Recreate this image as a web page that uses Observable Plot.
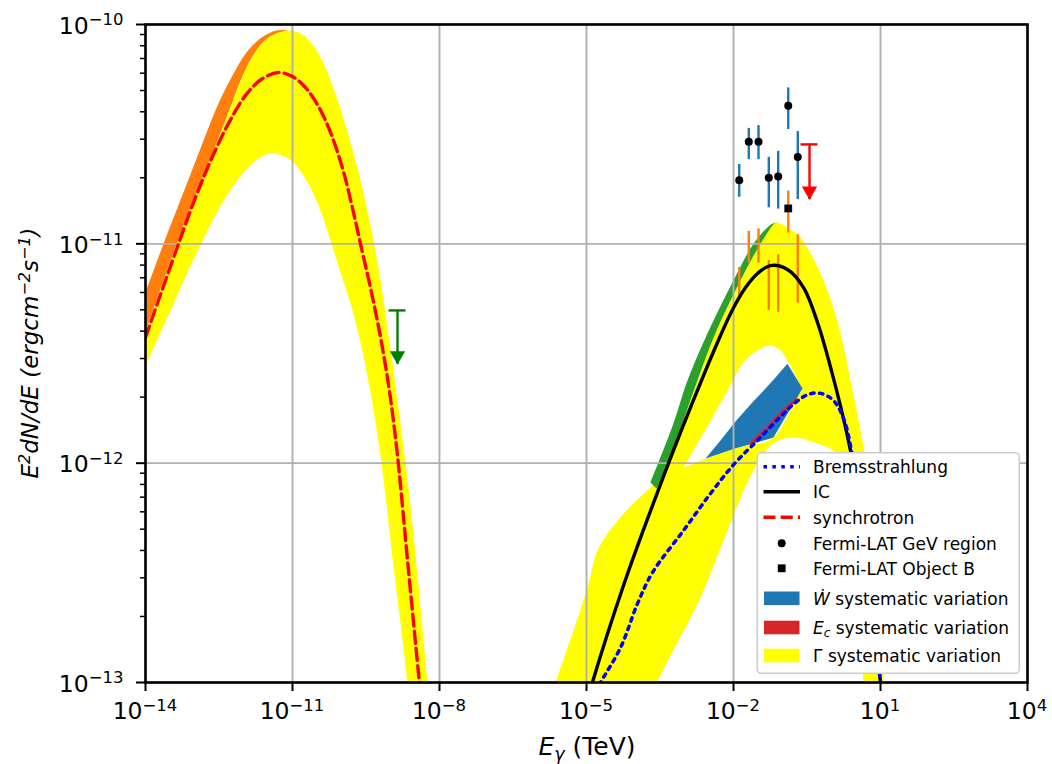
<!DOCTYPE html>
<html><head><meta charset="utf-8">
<script src="https://cdn.jsdelivr.net/npm/d3@7"></script>
<script src="https://cdn.jsdelivr.net/npm/@observablehq/plot@0.6"></script>
<style>
html,body{margin:0;padding:0;background:#fff;}
#chart{width:1052px;height:764px;}
</style></head><body><div id="chart"></div>
<script>
// ---------- ticks ----------
const xTicks = [1e-14, 1e-11, 1e-8, 1e-5, 1e-2, 1e1, 1e4];
const xTickExp = ["\u221214", "\u221211", "\u22128", "\u22125", "\u22122", "1", "4"];
const yTicks = [1e-13, 1e-12, 1e-11, 1e-10];
const yTickExp = ["\u221213", "\u221212", "\u221211", "\u221210"];
const yMinorTicks = [2e-13, 3e-13, 4e-13, 5e-13, 6e-13, 7e-13, 8e-13, 9e-13,
  2e-12, 3e-12, 4e-12, 5e-12, 6e-12, 7e-12, 8e-12, 9e-12,
  2e-11, 3e-11, 4e-11, 5e-11, 6e-11, 7e-11, 8e-11, 9e-11];

// ---------- synchrotron ----------
const synchE = [1e-14, 2.02e-14, 4.71e-14, 1.05e-13, 2.33e-13, 4.94e-13, 1.10e-12, 2.44e-12, 5.18e-12, 1.0e-11, 1.84e-11, 3.40e-11, 5.97e-11, 1.05e-10, 1.67e-10, 2.44e-10, 4.09e-10, 6.55e-10, 1.0e-9, 1.39e-9, 2.33e-9, 3.91e-9, 4.50e-9];
const synchF = [3.74e-12, 5.87e-12, 1.0e-11, 1.63e-11, 2.50e-11, 3.54e-11, 4.75e-11, 5.67e-11, 6.04e-11, 5.79e-11, 5.16e-11, 4.23e-11, 3.22e-11, 2.21e-11, 1.46e-11, 1.0e-11, 6.0e-12, 3.55e-12, 1.97e-12, 1.08e-12, 3.24e-13, 9.9e-14, 7.4e-14];
// Gamma band of synchrotron: outer (upper) edge and inner (lower) edge
const synchUpperE = [1e-14, 2.33e-14, 5.18e-14, 1.15e-13, 2.44e-13, 4.94e-13, 9.10e-13, 1.67e-12, 3.24e-12, 7.91e-12, 1.46e-11, 2.56e-11, 4.30e-11, 6.87e-11, 1.10e-10, 1.76e-10, 2.81e-10, 4.30e-10, 6.25e-10, 9.10e-10, 1.32e-9, 1.84e-9, 2.56e-9, 3.56e-9, 5.69e-9, 6.55e-9];
const synchUpperF = [3.94e-12, 6.81e-12, 1.11e-11, 1.75e-11, 2.66e-11, 3.97e-11, 5.67e-11, 7.38e-11, 8.72e-11, 9.39e-11, 9.10e-11, 8.11e-11, 6.64e-11, 5.11e-11, 3.73e-11, 2.58e-11, 1.71e-11, 1.09e-11, 6.81e-12, 3.82e-12, 2.10e-12, 1.18e-12, 6.34e-13, 3.07e-13, 9.9e-14, 6.7e-14];
const synchLowerE = [1e-14, 3.24e-14, 8.28e-14, 1.84e-13, 3.72e-13, 7.55e-13, 1.60e-12, 3.56e-12, 8.28e-12, 1.67e-11, 3.09e-11, 5.43e-11, 9.55e-11, 1.53e-10, 2.44e-10, 3.91e-10, 6.25e-10, 1.15e-9, 2.22e-9, 2.56e-9];
const synchLowerF = [2.79e-12, 4.97e-12, 7.96e-12, 1.15e-11, 1.54e-11, 1.95e-11, 2.35e-11, 2.58e-11, 2.45e-11, 2.05e-11, 1.58e-11, 1.11e-11, 7.40e-12, 5.35e-12, 3.55e-12, 2.10e-12, 1.08e-12, 3.41e-13, 1e-13, 6.7e-14];
// Ec variation of synchrotron (outer edge of the orange strip)
const synchEcE = [1e-14, 2.33e-14, 6.55e-14, 1.53e-13, 3.09e-13, 5.97e-13, 1.15e-12, 2.33e-12, 4.71e-12];
const synchEcF = [6.0e-12, 1e-11, 1.81e-11, 2.96e-11, 4.36e-11, 5.85e-11, 7.45e-11, 8.72e-11, 9.39e-11];

// ---------- IC ----------
const icE = [1.05e-5, 1.32e-5, 5.69e-5, 2.56e-4, 1.32e-3, 5.43e-3, 9.55e-3, 1.76e-2, 3.09e-2, 5.69e-2, 0.126, 0.269, 0.518, 1.10, 2.44, 5.18, 10, 12.1];
const icF = [8.3e-14, 1e-13, 2.77e-13, 6.97e-13, 1.79e-12, 3.82e-12, 5.01e-12, 6.32e-12, 7.33e-12, 7.96e-12, 7.64e-12, 6.32e-12, 4.38e-12, 2.43e-12, 1.14e-12, 3.99e-13, 1e-13, 7.4e-14];
const icMaxE = [2.69e-4, 4.71e-4, 1.21e-3, 1.84e-3, 4.09e-3, 1.39e-2, 3.56e-2, 7.19e-2, 0.146, 0.233, 0.687, 1.53, 2.44, 3.91, 5.43, 7.55, 9.55, 11.5, 12.6];
const icMaxF = [7.66e-13, 9.95e-13, 1.83e-12, 2.38e-12, 3.82e-12, 6.81e-12, 1e-11, 1.25e-11, 1.16e-11, 1.07e-11, 6.81e-12, 3.90e-12, 2.38e-12, 1.41e-12, 9.25e-13, 3.99e-13, 1.91e-13, 1e-13, 7.4e-14];
const icMinE = [3.24e-4, 5.69e-4, 9.55e-4, 1.84e-3, 3.91e-3, 8.69e-3, 1.60e-2, 3.09e-2, 5.69e-2, 9.10e-2, 0.126, 0.184, 0.256, 0.471, 0.955, 1.93, 3.09, 4.30, 5.18, 5.69];
const icMinF = [6.08e-13, 7.66e-13, 9.55e-13, 1.23e-12, 1.65e-12, 2.28e-12, 2.88e-12, 3.26e-12, 3.44e-12, 3.26e-12, 2.94e-12, 2.51e-12, 2.14e-12, 1.87e-12, 1.56e-12, 1.24e-12, 9.25e-13, 3.60e-13, 1e-13, 8.26e-14];
const icEcE = [2.02e-4, 5.97e-4, 1.15e-3, 2.94e-3, 1e-2, 2.56e-2, 5.69e-2, 8.28e-2];
const icEcF = [8.17e-13, 1.52e-12, 2.38e-12, 3.90e-12, 6.81e-12, 1e-11, 1.22e-11, 1.26e-11];

// ---------- Bremsstrahlung ----------
const bremsE = [1.21e-5, 1.93e-5, 4.94e-5, 1.10e-4, 2.22e-4, 9.55e-4, 3.40e-3, 1.05e-2, 3.09e-2, 9.10e-2, 0.184, 0.340, 0.597, 1.10, 1.76, 2.44, 4.30, 6.87, 10, 11.5];
const bremsF = [8.3e-14, 1e-13, 1.44e-13, 2.29e-13, 3.17e-13, 4.93e-13, 7.27e-13, 9.95e-13, 1.27e-12, 1.63e-12, 1.89e-12, 2.06e-12, 2.08e-12, 1.93e-12, 1.60e-12, 1.20e-12, 4.93e-13, 2.24e-13, 1e-13, 7.85e-14];
const bremsMaxE = [1.67e-6, 2.33e-6, 1.05e-5, 1.67e-5, 4.30e-5, 2.02e-4, 4.71e-4, 9.55e-4, 2.69e-3, 1.10e-2, 6.55e-2, 0.256, 0.471, 0.955, 1.93, 3.09, 4.30, 5.18, 5.97];
const bremsMaxF = [8.26e-14, 1e-13, 2.71e-13, 3.99e-13, 5.47e-13, 7.74e-13, 9.06e-13, 9.55e-13, 1.05e-12, 1.17e-12, 1.31e-12, 2.14e-12, 2.10e-12, 1.83e-12, 1.48e-12, 1.08e-12, 5.47e-13, 2.36e-13, 8.26e-14];
const bremsMinE = [2.22e-4, 2.81e-4, 2.12e-3, 7.55e-3, 2.56e-2, 6.55e-2, 0.168, 0.471, 1.21, 2.44, 3.56, 4.50, 4.94];
const bremsMinF = [8.26e-14, 1e-13, 2.44e-13, 4.93e-13, 9.25e-13, 1.23e-12, 1.31e-12, 1.24e-12, 1.12e-12, 8.34e-13, 3.60e-13, 1e-13, 8.26e-14];
const bremsEcE = [2.22e-2, 4.50e-2, 9.10e-2, 0.202];
const bremsEcLowF = [1.19e-12, 1.38e-12, 1.63e-12, 1.91e-12];
const bremsEcHighF = [1.24e-12, 1.44e-12, 1.70e-12, 1.99e-12];

// ---------- W-dot variation ----------
const wdotUpperE = [2.69e-3, 5.43e-3, 1.10e-2, 2.22e-2, 4.09e-2, 7.19e-2, 0.126, 0.256];
const wdotUpperF = [1.05e-12, 1.27e-12, 1.55e-12, 1.85e-12, 2.14e-12, 2.46e-12, 2.84e-12, 2.19e-12];
const wdotLowerE = [2.69e-3, 1.10e-2, 2.56e-2, 6.55e-2, 0.256];
const wdotLowerF = [1.05e-12, 1.17e-12, 1.23e-12, 1.31e-12, 2.19e-12];

// ---------- Fermi-LAT data ----------
const gevE = [1.31e-2, 2.05e-2, 3.24e-2, 5.25e-2, 8.17e-2, 0.131, 0.205];
const gevF = [1.95e-11, 2.92e-11, 2.92e-11, 2.0e-11, 2.03e-11, 4.26e-11, 2.49e-11];
const gevLo = [1.63e-11, 2.42e-11, 2.42e-11, 1.46e-11, 1.44e-11, 3.32e-11, 1.59e-11];
const gevHi = [2.30e-11, 3.36e-11, 3.46e-11, 2.48e-11, 2.64e-11, 5.14e-11, 3.25e-11];
const objBErrLo = [5.69e-12, 8.16e-12, 8.16e-12, 4.97e-12, 4.88e-12, 1.12e-11, 5.36e-12];
const objBErrHi = [7.80e-12, 1.14e-11, 1.17e-11, 8.39e-12, 8.93e-12, 1.74e-11, 1.10e-11];
const objBE = [0.131];
const objBF = [1.45e-11];

// ---------- upper limits ----------
const ulE = [1.39e-9, 0.356];
const ulF = [4.97e-12, 2.84e-11];
const ulTip = [2.82e-12, 1.59e-11];

// ---------- legend labels ----------
const legendLabels = ["Bremsstrahlung", "IC", "synchrotron", "Fermi-LAT GeV region", "Fermi-LAT Object B"];

// ---------- build ----------
const pts = (E, F) => E.map((e, i) => ({x: e, y: F[i]}));
const poly = (upper, lower) => upper.concat(lower.slice().reverse());

const synchEcPoly = poly(pts(synchEcE, synchEcF), pts(synchUpperE.slice(0, 10), synchUpperF.slice(0, 10)));
const synchBand = poly(pts(synchUpperE, synchUpperF), pts(synchLowerE, synchLowerF));
const icBand = poly(pts(icMaxE, icMaxF), pts(icMinE, icMinF));
const bremsBand = poly(pts(bremsMaxE, bremsMaxF), pts(bremsMinE, bremsMinF));
const icEcBand = poly(pts(icEcE, icEcF), pts(icMaxE.slice(0, 8), icMaxF.slice(0, 8)));
const wdotBand = poly(pts(wdotUpperE, wdotUpperF), pts(wdotLowerE, wdotLowerF));
const bremsEc = bremsEcE.map((e, i) => ({x: e, lo: bremsEcLowF[i], hi: bremsEcHighF[i]}));
const gev = gevE.map((e, i) => ({x: e, y: gevF[i], lo: gevLo[i], hi: gevHi[i]}));
const objBars = gevE.map((e, i) => ({x: e, lo: objBErrLo[i], hi: objBErrHi[i]}));
const objB = pts(objBE, objBF);
const ul = ulE.map((e, i) => ({x: e, y: ulF[i], tip: ulTip[i]}));
const ulColors = ["green", "red"];

const W = 1052, H = 764, ML = 145, MR = 25, MT = 24, MB = 82;
const band = (data, fill, curve = "catmull-rom") =>
  Plot.line(data, {x: "x", y: "y", fill, stroke: "none", curve, clip: true});

const chart = Plot.plot({
  width: W, height: H,
  marginLeft: ML, marginRight: MR, marginTop: MT, marginBottom: MB,
  style: {fontFamily: "DejaVu Sans", background: "white", overflow: "visible"},
  x: {type: "log", domain: [1e-14, 1e4]},
  y: {type: "log", domain: [1e-13, 1e-10]},
  marks: [
    band(synchEcPoly, "#ff7f0e"),
    band(synchBand, "#ffff00"),
    band(icBand, "#ffff00"),
    band(bremsBand, "#ffff00"),
    band(icEcBand, "#2ca02c"),
    band(wdotBand, "#1f77b4", "linear"),
    Plot.areaY(bremsEc, {x: "x", y1: "lo", y2: "hi", fill: "#d62728", curve: "catmull-rom", clip: true}),
    Plot.ruleX(xTicks, {stroke: "#b0b0b0", strokeWidth: 1.9}),
    Plot.ruleY(yTicks, {stroke: "#b0b0b0", strokeWidth: 1.9}),
    Plot.ruleX(objBars, {x: "x", y1: "lo", y2: "hi", stroke: "#ff7f0e", strokeWidth: 2.4}),
    Plot.line(pts(synchE, synchF), {x: "x", y: "y", stroke: "red", strokeWidth: 3.4, strokeDasharray: "12,5.2", curve: "catmull-rom", clip: true}),
    Plot.line(pts(icE, icF), {x: "x", y: "y", stroke: "black", strokeWidth: 3.4, curve: "catmull-rom", clip: true}),
    Plot.line(pts(bremsE, bremsF), {x: "x", y: "y", stroke: "blue", strokeWidth: 3.5, strokeDasharray: "3.5,5.4", curve: "catmull-rom", clip: true}),
    Plot.ruleX(gev, {x: "x", y1: "lo", y2: "hi", stroke: "#1f77b4", strokeWidth: 2.4}),
    Plot.dot(gev, {x: "x", y: "y", r: 4, fill: "black"}),
    Plot.dot(objB, {x: "x", y: "y", symbol: "square", r: 4.4, fill: "black"}),
    Plot.ruleX(ul, {x: "x", y1: "y", y2: "tip", stroke: (d, i) => ulColors[i], strokeWidth: 2.4}),
    Plot.ruleY(ul, {y: "y", x1: "x", x2: "x", insetLeft: -8.5, insetRight: -8.5, stroke: (d, i) => ulColors[i], strokeWidth: 2.4}),
    Plot.dot(ul, {x: "x", y: "tip", symbol: "triangle", rotate: 180, r: 5.7, fill: (d, i) => ulColors[i], stroke: "none", dy: -8.8}),
    Plot.frame({stroke: "black", strokeWidth: 2.6}),
    Plot.axisX({ticks: xTicks, tickSize: 9, tickFormat: () => "", strokeWidth: 2, label: null}),
    Plot.axisY({ticks: yTicks, tickSize: 9, tickFormat: () => "", strokeWidth: 2, label: null}),
    Plot.axisY({ticks: yMinorTicks, tickSize: 5, tickFormat: () => "", strokeWidth: 1.5, label: null})
  ]
});
document.getElementById("chart").append(chart);

const sx = chart.scale("x"), sy = chart.scale("y");
const svg = d3.select(chart);
const ff = "DejaVu Sans";

// tick labels: "10" with superscript exponent
const gt = svg.append("g").attr("font-family", ff).attr("fill", "black");
xTicks.forEach((v, i) => {
  const t = gt.append("text").attr("x", sx.apply(v)).attr("y", H - MB + 37)
    .attr("text-anchor", "middle").attr("font-size", 23.5);
  t.append("tspan").text("10");
  t.append("tspan").attr("dy", -8.3).attr("font-size", 16.5).text(xTickExp[i]);
});
yTicks.forEach((v, i) => {
  const t = gt.append("text").attr("x", 123.5).attr("y", sy.apply(v) + 9.7)
    .attr("text-anchor", "end").attr("font-size", 23.5);
  t.append("tspan").text("10");
  t.append("tspan").attr("dy", -8.3).attr("font-size", 16.5).text(yTickExp[i]);
});

// axis labels
const xl = svg.append("text").attr("font-family", ff).attr("x", 587).attr("y", 755)
  .attr("text-anchor", "middle").attr("font-size", 25).style("white-space", "pre");
xl.append("tspan").attr("font-style", "italic").text("E");
xl.append("tspan").attr("font-style", "italic").attr("font-size", 17.5).attr("dy", 4.5).text("\u03b3");
xl.append("tspan").attr("dy", -4.5).text(" (TeV)");

const yl = svg.append("text").attr("font-family", ff).attr("transform", "translate(38,353) rotate(-90)")
  .attr("text-anchor", "middle").attr("font-size", 23).attr("font-style", "italic").style("white-space", "pre");
yl.append("tspan").text("E");
yl.append("tspan").attr("font-size", 16).attr("dy", -8.5).text("2");
yl.append("tspan").attr("dy", 8.5).text("dN/dE (ergcm");
yl.append("tspan").attr("font-size", 16).attr("dy", -8.5).text("\u22122");
yl.append("tspan").attr("dy", 8.5).text("s");
yl.append("tspan").attr("font-size", 16).attr("dy", -8.5).text("\u22121");
yl.append("tspan").attr("dy", 8.5).text(")");

// legend
const lg = svg.append("g").attr("font-family", ff).attr("font-size", 17).attr("text-anchor", "start").attr("fill", "black");
lg.append("rect").attr("x", 757.3).attr("y", 452.7).attr("width", 262).attr("height", 220.6)
  .attr("rx", 4).attr("fill", "white").attr("stroke", "#cccccc").attr("stroke-width", 1.6);
const hx0 = 763.5, hx1 = 800, tx = 813;
const rows = [466.7, 491.7, 517.3, 543.3, 568.3, 598.3, 627.5, 655.5];
lg.append("line").attr("x1", hx0).attr("x2", hx1).attr("y1", rows[0]).attr("y2", rows[0])
  .attr("stroke", "blue").attr("stroke-width", 3.5).attr("stroke-dasharray", "3.5,5.4");
lg.append("line").attr("x1", hx0).attr("x2", hx1).attr("y1", rows[1]).attr("y2", rows[1])
  .attr("stroke", "black").attr("stroke-width", 3.4);
lg.append("line").attr("x1", hx0).attr("x2", hx1).attr("y1", rows[2]).attr("y2", rows[2])
  .attr("stroke", "red").attr("stroke-width", 3.4).attr("stroke-dasharray", "12,5.2");
lg.append("circle").attr("cx", 781.7).attr("cy", rows[3]).attr("r", 4).attr("fill", "black");
lg.append("rect").attr("x", 781.7 - 3.9).attr("y", rows[4] - 3.9).attr("width", 7.8).attr("height", 7.8).attr("fill", "black");
[["#1f77b4", rows[5]], ["#d62728", rows[6]], ["#ffff00", rows[7]]].forEach(([c, y]) => {
  lg.append("rect").attr("x", 764).attr("y", y - 6.8).attr("width", 35.5).attr("height", 13.6).attr("fill", c);
});
const lt = (i) => lg.append("text").attr("x", tx).attr("y", rows[i] + 6.2).attr("text-anchor", "start").style("white-space", "pre");
legendLabels.forEach((s, i) => lt(i).text(s));
{
  const t = lt(5);
  t.append("tspan").attr("font-style", "italic").text("\u1e86");
  t.append("tspan").text(" systematic variation");
}
{
  const t = lt(6);
  t.append("tspan").attr("font-style", "italic").text("E");
  t.append("tspan").attr("font-style", "italic").attr("font-size", 12).attr("dy", 3).text("c");
  t.append("tspan").attr("dy", -3).text(" systematic variation");
}
lt(7).text("\u0393 systematic variation");
</script></body></html>
